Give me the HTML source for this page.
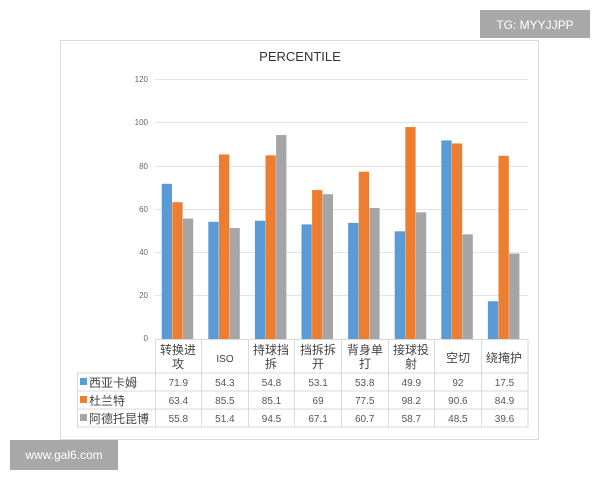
<!DOCTYPE html>
<html><head><meta charset="utf-8"><style>
body{margin:0;background:#fff;width:600px;height:480px;overflow:hidden;font-family:"Liberation Sans","Noto Sans CJK SC",sans-serif}
</style></head><body>
<svg width="600" height="480" xmlns="http://www.w3.org/2000/svg" style="position:absolute;left:0;top:0">
<rect x="60.5" y="40.5" width="478" height="399" fill="#fff" stroke="#d9d9d9"/>
<text x="300" y="61" text-anchor="middle" font-size="13" fill="#333" font-family="Liberation Sans, sans-serif">PERCENTILE</text>
<g stroke="#e3e3e3" stroke-width="1">
<line x1="155" x2="528" y1="79.5" y2="79.5"/><line x1="155" x2="528" y1="122.5" y2="122.5"/>
<line x1="155" x2="528" y1="166.5" y2="166.5"/><line x1="155" x2="528" y1="209.5" y2="209.5"/>
<line x1="155" x2="528" y1="252.5" y2="252.5"/><line x1="155" x2="528" y1="295.5" y2="295.5"/>
</g>
<g font-size="8" fill="#666" text-anchor="end" font-family="Liberation Sans, sans-serif">
<text x="148" y="82">120</text><text x="148" y="125">100</text><text x="148" y="169">80</text>
<text x="148" y="212">60</text><text x="148" y="255">40</text><text x="148" y="298">20</text><text x="148" y="341">0</text>
</g>
<g id="bars"></g>
<g stroke="#d9d9d9" fill="none">
<rect x="155.5" y="339.5" width="372.5" height="33.5"/>
<rect x="77.5" y="373" width="450.5" height="54"/>
<line x1="77" x2="528" y1="391" y2="391"/><line x1="77" x2="528" y1="409" y2="409"/>
<line x1="155.5" x2="155.5" y1="373" y2="427"/>
<line x1="201.5" x2="201.5" y1="339" y2="427"/><line x1="248.5" x2="248.5" y1="339" y2="427"/>
<line x1="294.5" x2="294.5" y1="339" y2="427"/><line x1="341.5" x2="341.5" y1="339" y2="427"/>
<line x1="388.5" x2="388.5" y1="339" y2="427"/><line x1="434.5" x2="434.5" y1="339" y2="427"/>
<line x1="481.5" x2="481.5" y1="339" y2="427"/>
</g>
<g font-size="12" fill="#444" text-anchor="middle">
<text x="178" y="354">转换进</text><text x="178" y="368">攻</text>
<text x="225" y="362" font-size="10">ISO</text>
<text x="271" y="354">持球挡</text><text x="271" y="368">拆</text>
<text x="318" y="354">挡拆拆</text><text x="318" y="368">开</text>
<text x="365" y="354">背身单</text><text x="365" y="368">打</text>
<text x="411" y="354">接球投</text><text x="411" y="368">射</text>
<text x="458" y="362">空切</text>
<text x="504" y="362">绕掩护</text>
</g>
<rect x="80" y="378" width="7" height="7" fill="#5b9bd5"/>
<rect x="80" y="396" width="7" height="7" fill="#ed7d31"/>
<rect x="80" y="414" width="7" height="7" fill="#a5a5a5"/>
<g font-size="12" fill="#444"><text x="89" y="387">西亚卡姆</text><text x="89" y="405">杜兰特</text><text x="89" y="423">阿德托昆博</text></g>
<g id="vals" font-size="10" fill="#555" text-anchor="middle" font-family="Liberation Sans, sans-serif"></g>
<rect x="480" y="10" width="110" height="28" fill="#a8a8a8"/>
<text x="535" y="29" text-anchor="middle" font-size="12" fill="#fff" font-family="Liberation Sans, sans-serif">TG: MYYJJPP</text>
<rect x="10" y="440" width="108" height="30" fill="#a8a8a8"/>
<text x="64" y="459" text-anchor="middle" font-size="12" fill="#fff" font-family="Liberation Sans, sans-serif">www.gal6.com</text>
</svg>
<script>
var d=[[71.9,54.3,54.8,53.1,53.8,49.9,92,17.5],[63.4,85.5,85.1,69,77.5,98.2,90.6,84.9],[55.8,51.4,94.5,67.1,60.7,58.7,48.5,39.6]];
var c=["#5b9bd5","#ed7d31","#a5a5a5"],ns="http://www.w3.org/2000/svg",b=document.getElementById("bars"),v=document.getElementById("vals");
for(var s=0;s<3;s++)for(var i=0;i<8;i++){var x=155+i*46.6+6.7+s*10.6,h=d[s][i]*259/120;
var r=document.createElementNS(ns,"rect");r.setAttribute("x",x);r.setAttribute("y",339-h);r.setAttribute("width",10.3);r.setAttribute("height",h);r.setAttribute("fill",c[s]);b.appendChild(r);
var t=document.createElementNS(ns,"text");t.setAttribute("x",155+i*46.6+23.3);t.setAttribute("y",386+s*18);t.textContent=d[s][i];v.appendChild(t);}
</script>
</body></html>
